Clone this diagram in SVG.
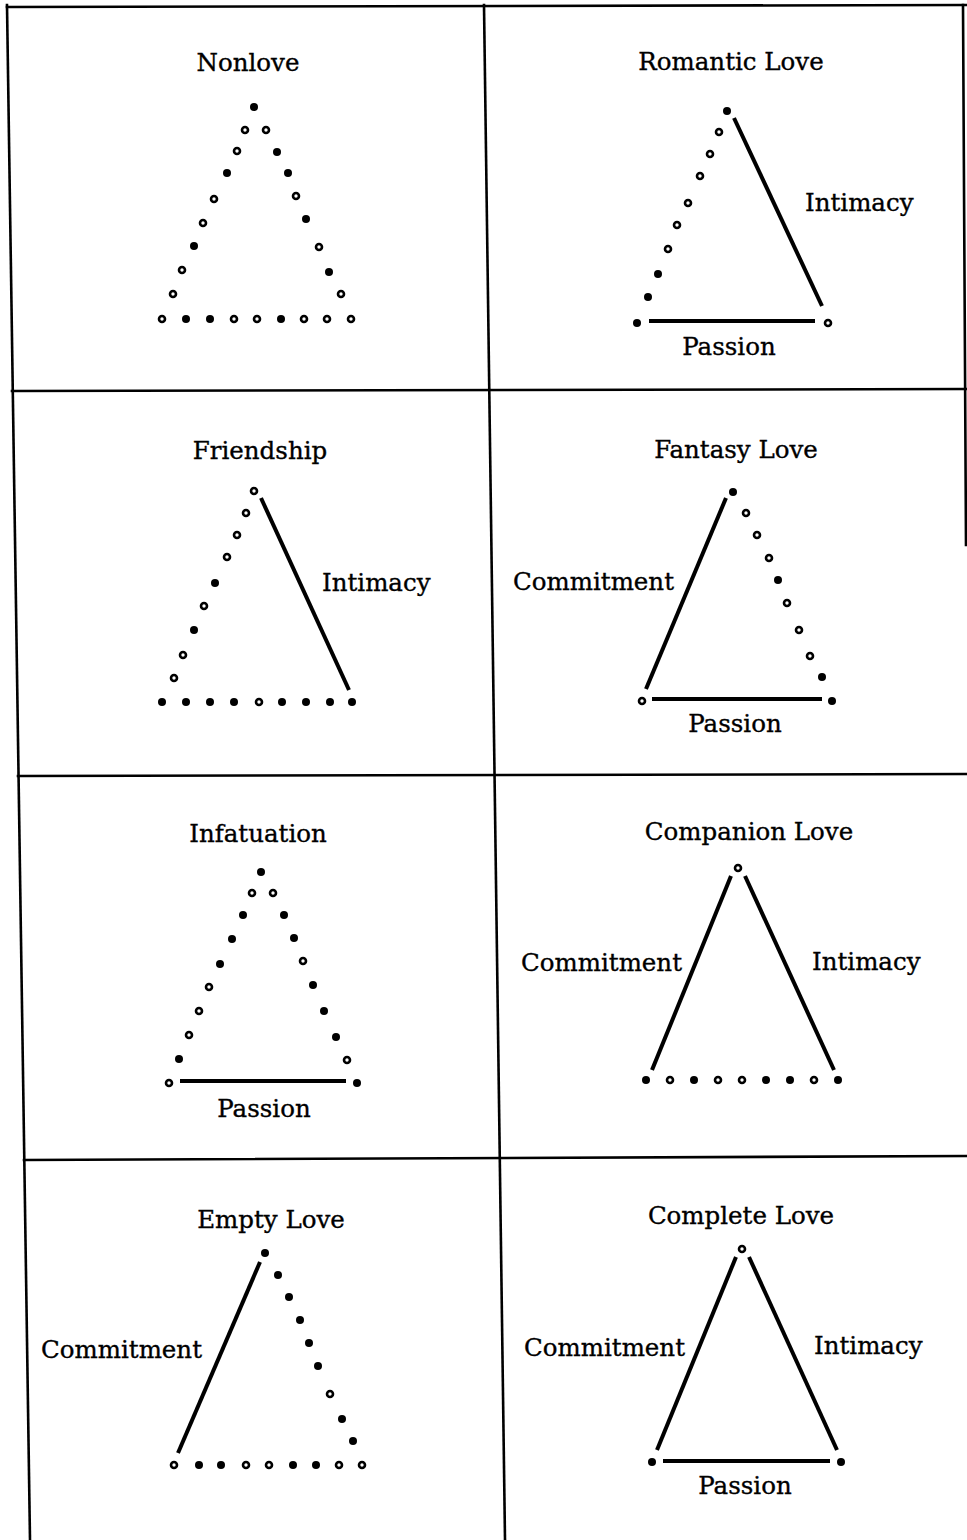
<svg xmlns="http://www.w3.org/2000/svg" width="967" height="1540" viewBox="0 0 967 1540">
<style>
.bg{fill:#ffffff}
.grid line{stroke:#000;stroke-width:2.6;stroke-linecap:square}
.side{stroke:#000;stroke-width:4;stroke-linecap:butt;fill:none}
.f{fill:#000}
.r{fill:#fff;stroke:#000;stroke-width:2.6}
text{font-family:"DejaVu Serif","Liberation Serif",serif;font-size:24.5px;fill:#000;stroke:#000;stroke-width:0.35}
.c{text-anchor:middle}
</style>
<defs>
<circle id="F" class="f" r="4"/>
</defs>
<rect class="bg" x="0" y="0" width="967" height="1540"/>
<g id="grid" class="grid">
<line x1="7" y1="7" x2="967" y2="5"/>
<line x1="7" y1="5" x2="30" y2="1540"/>
<line x1="484" y1="5" x2="505" y2="1540"/>
<line x1="963" y1="5" x2="966" y2="545"/>
<line x1="12" y1="391" x2="967" y2="389"/>
<line x1="18" y1="776" x2="967" y2="774"/>
<line x1="24" y1="1160" x2="967" y2="1156"/>
</g>

<g id="nonlove">
<text class="c" x="248" y="71">Nonlove</text>
<circle class="f" cx="254" cy="107" r="4"/>
<circle class="r" cx="245" cy="130" r="3"/><circle class="r" cx="237" cy="151" r="3"/><circle class="f" cx="227" cy="173" r="4"/><circle class="r" cx="214" cy="199" r="3"/><circle class="r" cx="203" cy="223" r="3"/><circle class="f" cx="194" cy="246" r="4"/><circle class="r" cx="182" cy="270" r="3"/><circle class="r" cx="173" cy="294" r="3"/>
<circle class="r" cx="266" cy="130" r="3"/><circle class="f" cx="277" cy="152" r="4"/><circle class="f" cx="288" cy="173" r="4"/><circle class="r" cx="296" cy="196" r="3"/><circle class="f" cx="306" cy="219" r="4"/><circle class="r" cx="319" cy="247" r="3"/><circle class="f" cx="329" cy="272" r="4"/><circle class="r" cx="341" cy="294" r="3"/>
<circle class="r" cx="162" cy="319" r="3"/><circle class="f" cx="186" cy="319" r="4"/><circle class="f" cx="210" cy="319" r="4"/><circle class="r" cx="234" cy="319" r="3"/><circle class="r" cx="257" cy="319" r="3"/><circle class="f" cx="281" cy="319" r="4"/><circle class="r" cx="304" cy="319" r="3"/><circle class="r" cx="327" cy="319" r="3"/><circle class="r" cx="351" cy="319" r="3"/>
</g>

<g id="romantic-love">
<text class="c" x="731" y="70">Romantic Love</text>
<circle class="f" cx="727" cy="111" r="4"/>
<circle class="r" cx="719" cy="132" r="3"/><circle class="r" cx="710" cy="154" r="3"/><circle class="r" cx="700" cy="176" r="3"/><circle class="r" cx="688" cy="203" r="3"/><circle class="r" cx="677" cy="225" r="3"/><circle class="r" cx="668" cy="249" r="3"/><circle class="f" cx="658" cy="274" r="4"/><circle class="f" cx="648" cy="297" r="4"/>
<circle class="f" cx="637" cy="323" r="4"/><circle class="r" cx="828" cy="323" r="3"/>
<line class="side" x1="734" y1="118" x2="822" y2="306"/>
<line class="side" x1="649" y1="321" x2="815" y2="321"/>
<text x="805" y="211">Intimacy</text>
<text class="c" x="729" y="355">Passion</text>
</g>

<g id="friendship">
<text class="c" x="260" y="459">Friendship</text>
<circle class="r" cx="254" cy="491" r="3"/>
<circle class="r" cx="246" cy="513" r="3"/><circle class="r" cx="237" cy="535" r="3"/><circle class="r" cx="227" cy="557" r="3"/><circle class="f" cx="215" cy="583" r="4"/><circle class="r" cx="204" cy="606" r="3"/><circle class="f" cx="194" cy="630" r="4"/><circle class="r" cx="183" cy="655" r="3"/><circle class="r" cx="174" cy="678" r="3"/>
<circle class="f" cx="162" cy="702" r="4"/><circle class="f" cx="186" cy="702" r="4"/><circle class="f" cx="210" cy="702" r="4"/><circle class="f" cx="234" cy="702" r="4"/><circle class="r" cx="259" cy="702" r="3"/><circle class="f" cx="282" cy="702" r="4"/><circle class="f" cx="306" cy="702" r="4"/><circle class="f" cx="330" cy="702" r="4"/><circle class="f" cx="352" cy="702" r="4"/>
<line class="side" x1="261" y1="498" x2="349" y2="690"/>
<text x="322" y="591">Intimacy</text>
</g>

<g id="fantasy-love">
<text class="c" x="736" y="458">Fantasy Love</text>
<circle class="f" cx="733" cy="492" r="4"/>
<circle class="r" cx="746" cy="513" r="3"/><circle class="r" cx="757" cy="535" r="3"/><circle class="r" cx="769" cy="558" r="3"/><circle class="f" cx="778" cy="580" r="4"/><circle class="r" cx="787" cy="603" r="3"/><circle class="r" cx="799" cy="630" r="3"/><circle class="r" cx="810" cy="656" r="3"/><circle class="f" cx="822" cy="677" r="4"/>
<circle class="f" cx="832" cy="701" r="4"/><circle class="r" cx="642" cy="701" r="3"/>
<line class="side" x1="726" y1="498" x2="646" y2="689"/>
<line class="side" x1="652" y1="699" x2="822" y2="699"/>
<text x="513" y="590">Commitment</text>
<text class="c" x="735" y="732">Passion</text>
</g>

<g id="infatuation">
<text class="c" x="258" y="842">Infatuation</text>
<circle class="f" cx="261" cy="872" r="4"/>
<circle class="r" cx="252" cy="893" r="3"/><circle class="f" cx="243" cy="915" r="4"/><circle class="f" cx="232" cy="939" r="4"/><circle class="f" cx="220" cy="964" r="4"/><circle class="r" cx="209" cy="987" r="3"/><circle class="r" cx="199" cy="1011" r="3"/><circle class="r" cx="189" cy="1035" r="3"/><circle class="f" cx="179" cy="1059" r="4"/>
<circle class="r" cx="273" cy="893" r="3"/><circle class="f" cx="284" cy="915" r="4"/><circle class="f" cx="294" cy="938" r="4"/><circle class="r" cx="303" cy="961" r="3"/><circle class="f" cx="313" cy="985" r="4"/><circle class="f" cx="324" cy="1011" r="4"/><circle class="f" cx="336" cy="1037" r="4"/><circle class="r" cx="347" cy="1060" r="3"/>
<circle class="r" cx="169" cy="1083" r="3"/><circle class="f" cx="357" cy="1083" r="4"/>
<line class="side" x1="180" y1="1081" x2="346" y2="1081"/>
<text class="c" x="264" y="1117">Passion</text>
</g>

<g id="companion-love">
<text class="c" x="749" y="840">Companion Love</text>
<circle class="r" cx="738" cy="868" r="3"/>
<line class="side" x1="731" y1="876" x2="652" y2="1070"/>
<line class="side" x1="745" y1="876" x2="834" y2="1070"/>
<circle class="f" cx="646" cy="1080" r="4"/><circle class="r" cx="670" cy="1080" r="3"/><circle class="f" cx="694" cy="1080" r="4"/><circle class="r" cx="718" cy="1080" r="3"/><circle class="r" cx="742" cy="1080" r="3"/><circle class="f" cx="766" cy="1080" r="4"/><circle class="f" cx="790" cy="1080" r="4"/><circle class="r" cx="814" cy="1080" r="3"/><circle class="f" cx="838" cy="1080" r="4"/>
<text x="521" y="971">Commitment</text>
<text x="812" y="970">Intimacy</text>
</g>

<g id="empty-love">
<text class="c" x="271" y="1228">Empty Love</text>
<circle class="f" cx="265" cy="1253" r="4"/>
<circle class="f" cx="278" cy="1275" r="4"/><circle class="f" cx="289" cy="1297" r="4"/><circle class="f" cx="300" cy="1320" r="4"/><circle class="f" cx="309" cy="1343" r="4"/><circle class="f" cx="318" cy="1366" r="4"/><circle class="r" cx="330" cy="1394" r="3"/><circle class="f" cx="342" cy="1419" r="4"/><circle class="f" cx="353" cy="1441" r="4"/>
<circle class="r" cx="174" cy="1465" r="3"/><circle class="f" cx="199" cy="1465" r="4"/><circle class="f" cx="221" cy="1465" r="4"/><circle class="r" cx="246" cy="1465" r="3"/><circle class="r" cx="269" cy="1465" r="3"/><circle class="f" cx="293" cy="1465" r="4"/><circle class="f" cx="316" cy="1465" r="4"/><circle class="r" cx="339" cy="1465" r="3"/><circle class="r" cx="362" cy="1465" r="3"/>
<line class="side" x1="260" y1="1262" x2="178" y2="1453"/>
<text x="41" y="1358">Commitment</text>
</g>

<g id="complete-love">
<text class="c" x="741" y="1224">Complete Love</text>
<circle class="r" cx="742" cy="1249" r="3"/>
<circle class="f" cx="652" cy="1462" r="4"/><circle class="f" cx="841" cy="1462" r="4"/>
<line class="side" x1="736" y1="1257" x2="657" y2="1450"/>
<line class="side" x1="749" y1="1257" x2="837" y2="1450"/>
<line class="side" x1="663" y1="1461" x2="830" y2="1461"/>
<text x="524" y="1356">Commitment</text>
<text x="814" y="1354">Intimacy</text>
<text class="c" x="745" y="1494">Passion</text>
</g>
</svg>
